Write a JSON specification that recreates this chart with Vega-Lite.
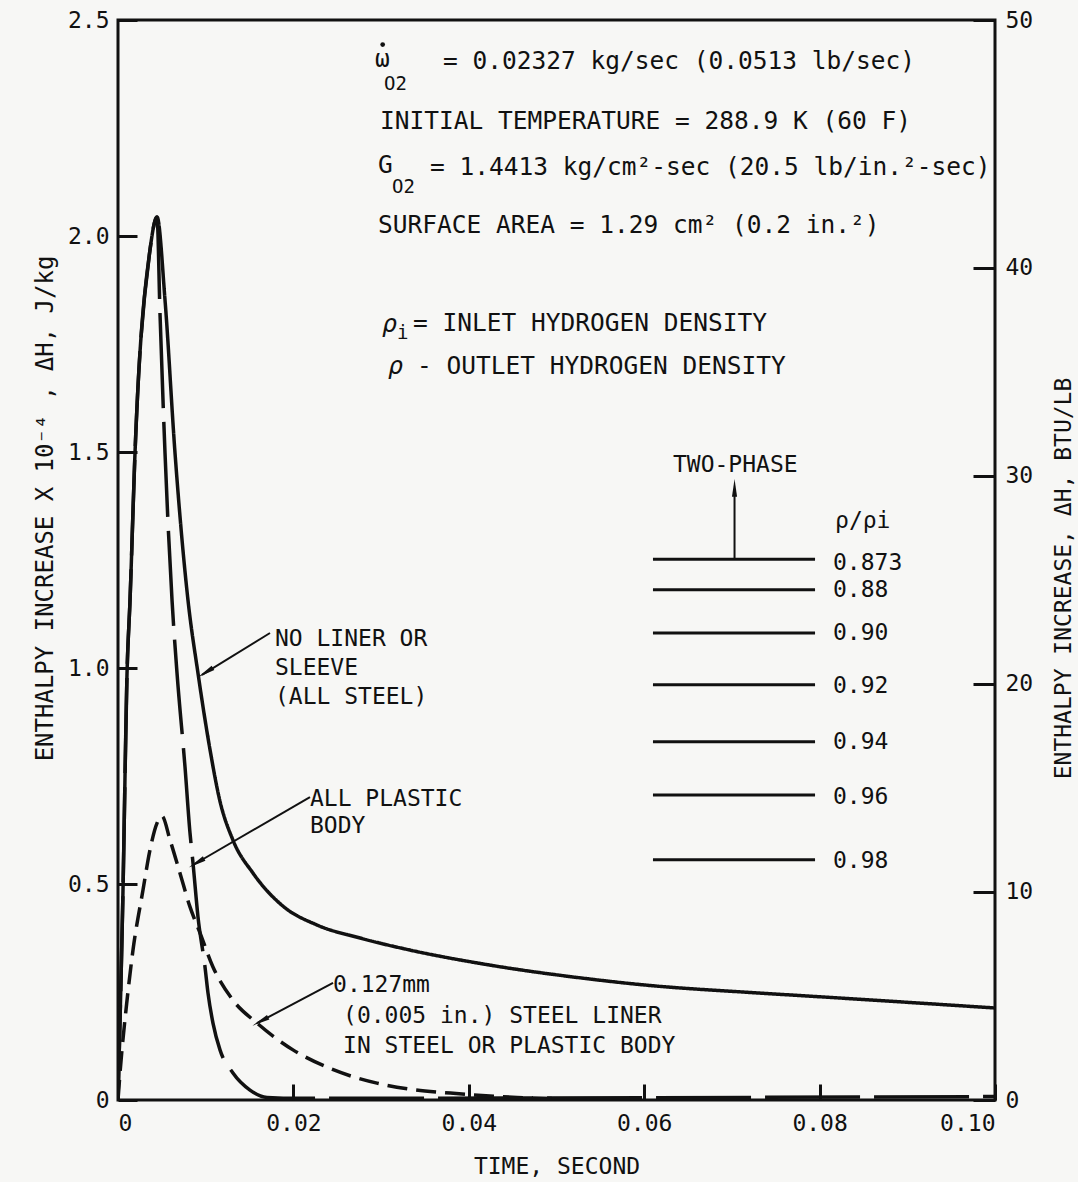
{
  "$schema": "https://vega.github.io/schema/vega-lite/v6.json",
  "width": 877,
  "height": 1080,
  "autosize": {"type": "none"},
  "padding": {"left": 118, "top": 20, "right": 83, "bottom": 82},
  "background": "#f7f7f5",
  "config": {
    "view": {"stroke": "#111111", "strokeWidth": 3},
    "font": "DejaVu Sans Mono",
    "axis": {"labelFont": "DejaVu Sans Mono", "titleFont": "DejaVu Sans Mono", "labelColor": "#111111", "titleColor": "#111111", "tickColor": "#111111", "titleFontWeight": "normal"}
  },
  "datasets": {
    "curves": [
      {"series": "solid", "t": 0, "v": 0},
      {"series": "solid", "t": 0.00057, "v": 0.486},
      {"series": "solid", "t": 0.00103, "v": 0.988},
      {"series": "solid", "t": 0.00137, "v": 1.157},
      {"series": "solid", "t": 0.00194, "v": 1.498},
      {"series": "solid", "t": 0.00365, "v": 1.968},
      {"series": "solid", "t": 0.00445, "v": 2.044},
      {"series": "solid", "t": 0.00536, "v": 1.852},
      {"series": "solid", "t": 0.0065, "v": 1.498},
      {"series": "solid", "t": 0.00798, "v": 1.157},
      {"series": "solid", "t": 0.00912, "v": 0.988},
      {"series": "solid", "t": 0.0105, "v": 0.81},
      {"series": "solid", "t": 0.0116, "v": 0.694},
      {"series": "solid", "t": 0.0131, "v": 0.602},
      {"series": "solid", "t": 0.0154, "v": 0.525},
      {"series": "solid", "t": 0.0188, "v": 0.449},
      {"series": "solid", "t": 0.0227, "v": 0.405},
      {"series": "solid", "t": 0.0276, "v": 0.375},
      {"series": "solid", "t": 0.0333, "v": 0.347},
      {"series": "solid", "t": 0.0416, "v": 0.315},
      {"series": "solid", "t": 0.053, "v": 0.282},
      {"series": "solid", "t": 0.0607, "v": 0.265},
      {"series": "solid", "t": 0.072, "v": 0.249},
      {"series": "solid", "t": 0.08, "v": 0.239},
      {"series": "solid", "t": 0.1, "v": 0.213},
      {"series": "plastic", "t": 0, "v": 0},
      {"series": "plastic", "t": 0.00057, "v": 0.486},
      {"series": "plastic", "t": 0.00103, "v": 0.988},
      {"series": "plastic", "t": 0.00137, "v": 1.157},
      {"series": "plastic", "t": 0.00194, "v": 1.498},
      {"series": "plastic", "t": 0.00365, "v": 1.968},
      {"series": "plastic", "t": 0.00445, "v": 2.044},
      {"series": "plastic", "t": 0.00479, "v": 1.82},
      {"series": "plastic", "t": 0.00536, "v": 1.498},
      {"series": "plastic", "t": 0.00616, "v": 1.157},
      {"series": "plastic", "t": 0.00673, "v": 0.988},
      {"series": "plastic", "t": 0.00764, "v": 0.771},
      {"series": "plastic", "t": 0.00821, "v": 0.618},
      {"series": "plastic", "t": 0.00855, "v": 0.549},
      {"series": "plastic", "t": 0.00912, "v": 0.424},
      {"series": "plastic", "t": 0.00992, "v": 0.308},
      {"series": "plastic", "t": 0.01026, "v": 0.248},
      {"series": "plastic", "t": 0.01083, "v": 0.178},
      {"series": "plastic", "t": 0.01163, "v": 0.116},
      {"series": "plastic", "t": 0.01311, "v": 0.0625},
      {"series": "plastic", "t": 0.01505, "v": 0.023},
      {"series": "plastic", "t": 0.01699, "v": 0.006},
      {"series": "plastic", "t": 0.0207, "v": 0.004},
      {"series": "plastic", "t": 0.1, "v": 0.008},
      {"series": "liner", "t": 0, "v": 0},
      {"series": "liner", "t": 0.00023, "v": 0.0625},
      {"series": "liner", "t": 0.00103, "v": 0.231},
      {"series": "liner", "t": 0.00171, "v": 0.347},
      {"series": "liner", "t": 0.00285, "v": 0.486},
      {"series": "liner", "t": 0.00365, "v": 0.579},
      {"series": "liner", "t": 0.00445, "v": 0.641},
      {"series": "liner", "t": 0.00502, "v": 0.657},
      {"series": "liner", "t": 0.00593, "v": 0.602},
      {"series": "liner", "t": 0.00707, "v": 0.525},
      {"series": "liner", "t": 0.00821, "v": 0.447},
      {"series": "liner", "t": 0.00935, "v": 0.387},
      {"series": "liner", "t": 0.01083, "v": 0.308},
      {"series": "liner", "t": 0.01311, "v": 0.231},
      {"series": "liner", "t": 0.01585, "v": 0.178},
      {"series": "liner", "t": 0.01995, "v": 0.116},
      {"series": "liner", "t": 0.02383, "v": 0.076},
      {"series": "liner", "t": 0.02953, "v": 0.039},
      {"series": "liner", "t": 0.0333, "v": 0.025},
      {"series": "liner", "t": 0.0379, "v": 0.016},
      {"series": "liner", "t": 0.0455, "v": 0.006},
      {"series": "liner", "t": 0.0504, "v": 0.003}
    ],
    "notes": [
      {"t": 0.0179, "v": 1.067, "label": "NO LINER OR"},
      {"t": 0.0179, "v": 1.0, "label": "SLEEVE"},
      {"t": 0.0179, "v": 0.933, "label": "(ALL STEEL)"},
      {"t": 0.02189, "v": 0.697, "label": "ALL PLASTIC"},
      {"t": 0.02189, "v": 0.634, "label": "BODY"},
      {"t": 0.02452, "v": 0.266, "label": "0.127mm"},
      {"t": 0.02566, "v": 0.194, "label": "(0.005 in.) STEEL LINER"},
      {"t": 0.02566, "v": 0.125, "label": "IN STEEL OR PLASTIC BODY"},
      {"t": 0.06328, "v": 1.47, "label": "TWO-PHASE"},
      {"t": 0.08176, "v": 1.34, "label": "ρ/ρi"},
      {"t": 0.08153, "v": 1.243, "label": "0.873"},
      {"t": 0.08153, "v": 1.181, "label": "0.88"},
      {"t": 0.08153, "v": 1.081, "label": "0.90"},
      {"t": 0.08153, "v": 0.958, "label": "0.92"},
      {"t": 0.08153, "v": 0.829, "label": "0.94"},
      {"t": 0.08153, "v": 0.701, "label": "0.96"},
      {"t": 0.08153, "v": 0.553, "label": "0.98"}
    ],
    "header": [
      {"t": 0.0293, "v": 2.407, "label": "ω"},
      {"t": 0.03706, "v": 2.403, "label": "= 0.02327 kg/sec (0.0513 lb/sec)"},
      {"t": 0.02987, "v": 2.264, "label": "INITIAL TEMPERATURE = 288.9 K (60 F)"},
      {"t": 0.02965, "v": 2.162, "label": "G"},
      {"t": 0.03558, "v": 2.157, "label": "= 1.4413 kg/cm²-sec (20.5 lb/in.²-sec)"},
      {"t": 0.02965, "v": 2.023, "label": "SURFACE AREA = 1.29 cm² (0.2 in.²)"},
      {"t": 0.03364, "v": 1.796, "label": "= INLET HYDROGEN DENSITY"},
      {"t": 0.03409, "v": 1.697, "label": "- OUTLET HYDROGEN DENSITY"}
    ],
    "subs": [
      {"t": 0.03033, "v": 2.352, "label": "O2"},
      {"t": 0.03124, "v": 2.113, "label": "O2"},
      {"t": 0.03181, "v": 1.775, "label": "i"}
    ],
    "rhos": [
      {"t": 0.0301, "v": 1.796, "label": "ρ"},
      {"t": 0.03079, "v": 1.699, "label": "ρ"}
    ],
    "levels": [
      {"t": 0.061, "t2": 0.07948, "v": 1.252},
      {"t": 0.061, "t2": 0.07948, "v": 1.181},
      {"t": 0.061, "t2": 0.07948, "v": 1.081},
      {"t": 0.061, "t2": 0.07948, "v": 0.961},
      {"t": 0.061, "t2": 0.07948, "v": 0.829},
      {"t": 0.061, "t2": 0.07948, "v": 0.706},
      {"t": 0.061, "t2": 0.07948, "v": 0.556}
    ],
    "arrows": [
      {"t": 0.01733, "v": 1.081, "t2": 0.00958, "v2": 0.984},
      {"t": 0.02189, "v": 0.701, "t2": 0.00855, "v2": 0.544},
      {"t": 0.02452, "v": 0.271, "t2": 0.01585, "v2": 0.178},
      {"t": 0.0703, "v": 1.252, "t2": 0.0703, "v2": 1.4}
    ],
    "btu": [{"btu": 0}, {"btu": 50}]
  },
  "layer": [
    {
      "layer": [
        {
          "data": {"name": "curves"},
          "mark": {"type": "line", "interpolate": "monotone", "strokeWidth": 3.5, "color": "#111111", "clip": true},
          "encoding": {
            "x": {"field": "t", "type": "quantitative", "scale": {"domain": [0, 0.1], "nice": false},
              "axis": {"title": "TIME, SECOND", "values": [0, 0.02, 0.04, 0.06, 0.08, 0.1], "labelExpr": "datum.value == 0 ? '0' : format(datum.value, '.2f')", "grid": false, "domain": false, "tickSize": -16, "tickWidth": 3, "labelFontSize": 23, "labelPadding": 28, "titleFontSize": 23, "titleY": 66, "titleBaseline": "middle"}},
            "y": {"field": "v", "type": "quantitative", "scale": {"domain": [0, 2.5], "nice": false},
              "axis": {"title": "ENTHALPY INCREASE X 10⁻⁴ , ΔH, J/kg", "values": [0, 0.5, 1, 1.5, 2, 2.5], "labelExpr": "datum.value == 0 ? '0' : format(datum.value, '.1f')", "grid": false, "domain": false, "tickSize": -19, "tickWidth": 3, "labelFontSize": 23, "labelPadding": 28, "titleFontSize": 24, "titleAngle": -90, "titleX": -73, "titleY": 488, "titleAlign": "center", "titleBaseline": "middle"}},
            "detail": {"field": "series", "type": "nominal"},
            "strokeDash": {"field": "series", "type": "nominal", "scale": {"domain": ["solid", "plastic", "liner"], "range": [[1, 0], [95, 14], [20, 9]]}, "legend": null}
          }
        },
        {
          "data": {"name": "levels"},
          "mark": {"type": "rule", "strokeWidth": 3, "color": "#111111"},
          "encoding": {
            "x": {"field": "t", "type": "quantitative"},
            "x2": {"field": "t2"},
            "y": {"field": "v", "type": "quantitative"}
          }
        },
        {
          "data": {"name": "arrows"},
          "mark": {"type": "rule", "strokeWidth": 2, "color": "#111111"},
          "encoding": {
            "x": {"field": "t", "type": "quantitative"},
            "x2": {"field": "t2"},
            "y": {"field": "v", "type": "quantitative"},
            "y2": {"field": "v2"}
          }
        },
        {
          "data": {"values": [{"t": 0.01026, "v": 0.993}]},
          "mark": {"type": "point", "shape": "wedge", "filled": true, "color": "#111111", "opacity": 1, "size": 420, "angle": 238},
          "encoding": {"x": {"field": "t", "type": "quantitative"}, "y": {"field": "v", "type": "quantitative"}}
        },
        {
          "data": {"values": [{"t": 0.00924, "v": 0.552}]},
          "mark": {"type": "point", "shape": "wedge", "filled": true, "color": "#111111", "opacity": 1, "size": 420, "angle": 240},
          "encoding": {"x": {"field": "t", "type": "quantitative"}, "y": {"field": "v", "type": "quantitative"}}
        },
        {
          "data": {"values": [{"t": 0.01653, "v": 0.185}]},
          "mark": {"type": "point", "shape": "wedge", "filled": true, "color": "#111111", "opacity": 1, "size": 420, "angle": 242},
          "encoding": {"x": {"field": "t", "type": "quantitative"}, "y": {"field": "v", "type": "quantitative"}}
        },
        {
          "data": {"values": [{"t": 0.0703, "v": 1.41}]},
          "mark": {"type": "point", "shape": "wedge", "filled": true, "color": "#111111", "opacity": 1, "size": 420, "angle": 0},
          "encoding": {"x": {"field": "t", "type": "quantitative"}, "y": {"field": "v", "type": "quantitative"}}
        },
        {
          "data": {"values": [{"t": 0.03018, "v": 2.443}]},
          "mark": {"type": "point", "shape": "circle", "filled": true, "color": "#111111", "opacity": 1, "size": 22},
          "encoding": {"x": {"field": "t", "type": "quantitative"}, "y": {"field": "v", "type": "quantitative"}}
        },
        {
          "data": {"name": "notes"},
          "mark": {"type": "text", "align": "left", "baseline": "middle", "fontSize": 23, "font": "DejaVu Sans Mono", "color": "#111111"},
          "encoding": {"x": {"field": "t", "type": "quantitative"}, "y": {"field": "v", "type": "quantitative"}, "text": {"field": "label"}}
        },
        {
          "data": {"name": "header"},
          "mark": {"type": "text", "align": "left", "baseline": "middle", "fontSize": 24.5, "font": "DejaVu Sans Mono", "color": "#111111"},
          "encoding": {"x": {"field": "t", "type": "quantitative"}, "y": {"field": "v", "type": "quantitative"}, "text": {"field": "label"}}
        },
        {
          "data": {"name": "subs"},
          "mark": {"type": "text", "align": "left", "baseline": "middle", "fontSize": 19, "font": "DejaVu Sans Mono", "color": "#111111"},
          "encoding": {"x": {"field": "t", "type": "quantitative"}, "y": {"field": "v", "type": "quantitative"}, "text": {"field": "label"}}
        },
        {
          "data": {"name": "rhos"},
          "mark": {"type": "text", "align": "left", "baseline": "middle", "fontSize": 25, "fontStyle": "italic", "font": "DejaVu Sans Mono", "color": "#111111"},
          "encoding": {"x": {"field": "t", "type": "quantitative"}, "y": {"field": "v", "type": "quantitative"}, "text": {"field": "label"}}
        }
      ]
    },
    {
      "data": {"name": "btu"},
      "mark": {"type": "point", "opacity": 0},
      "encoding": {
        "y": {"field": "btu", "type": "quantitative", "scale": {"domain": [0, 51.92], "nice": false},
          "axis": {"orient": "right", "title": "ENTHALPY INCREASE, ΔH, BTU/LB", "values": [0, 10, 20, 30, 40, 51.92], "labelExpr": "datum.value > 50 ? '50' : format(datum.value, 'd')", "grid": false, "domain": false, "tickSize": -22, "tickWidth": 3, "labelFontSize": 23, "labelPadding": 32, "titleFontSize": 23, "titleAngle": -90, "titleX": 68, "titleY": 558, "titleAlign": "center", "titleBaseline": "middle"}}
      }
    }
  ],
  "resolve": {"scale": {"y": "independent"}}
}
